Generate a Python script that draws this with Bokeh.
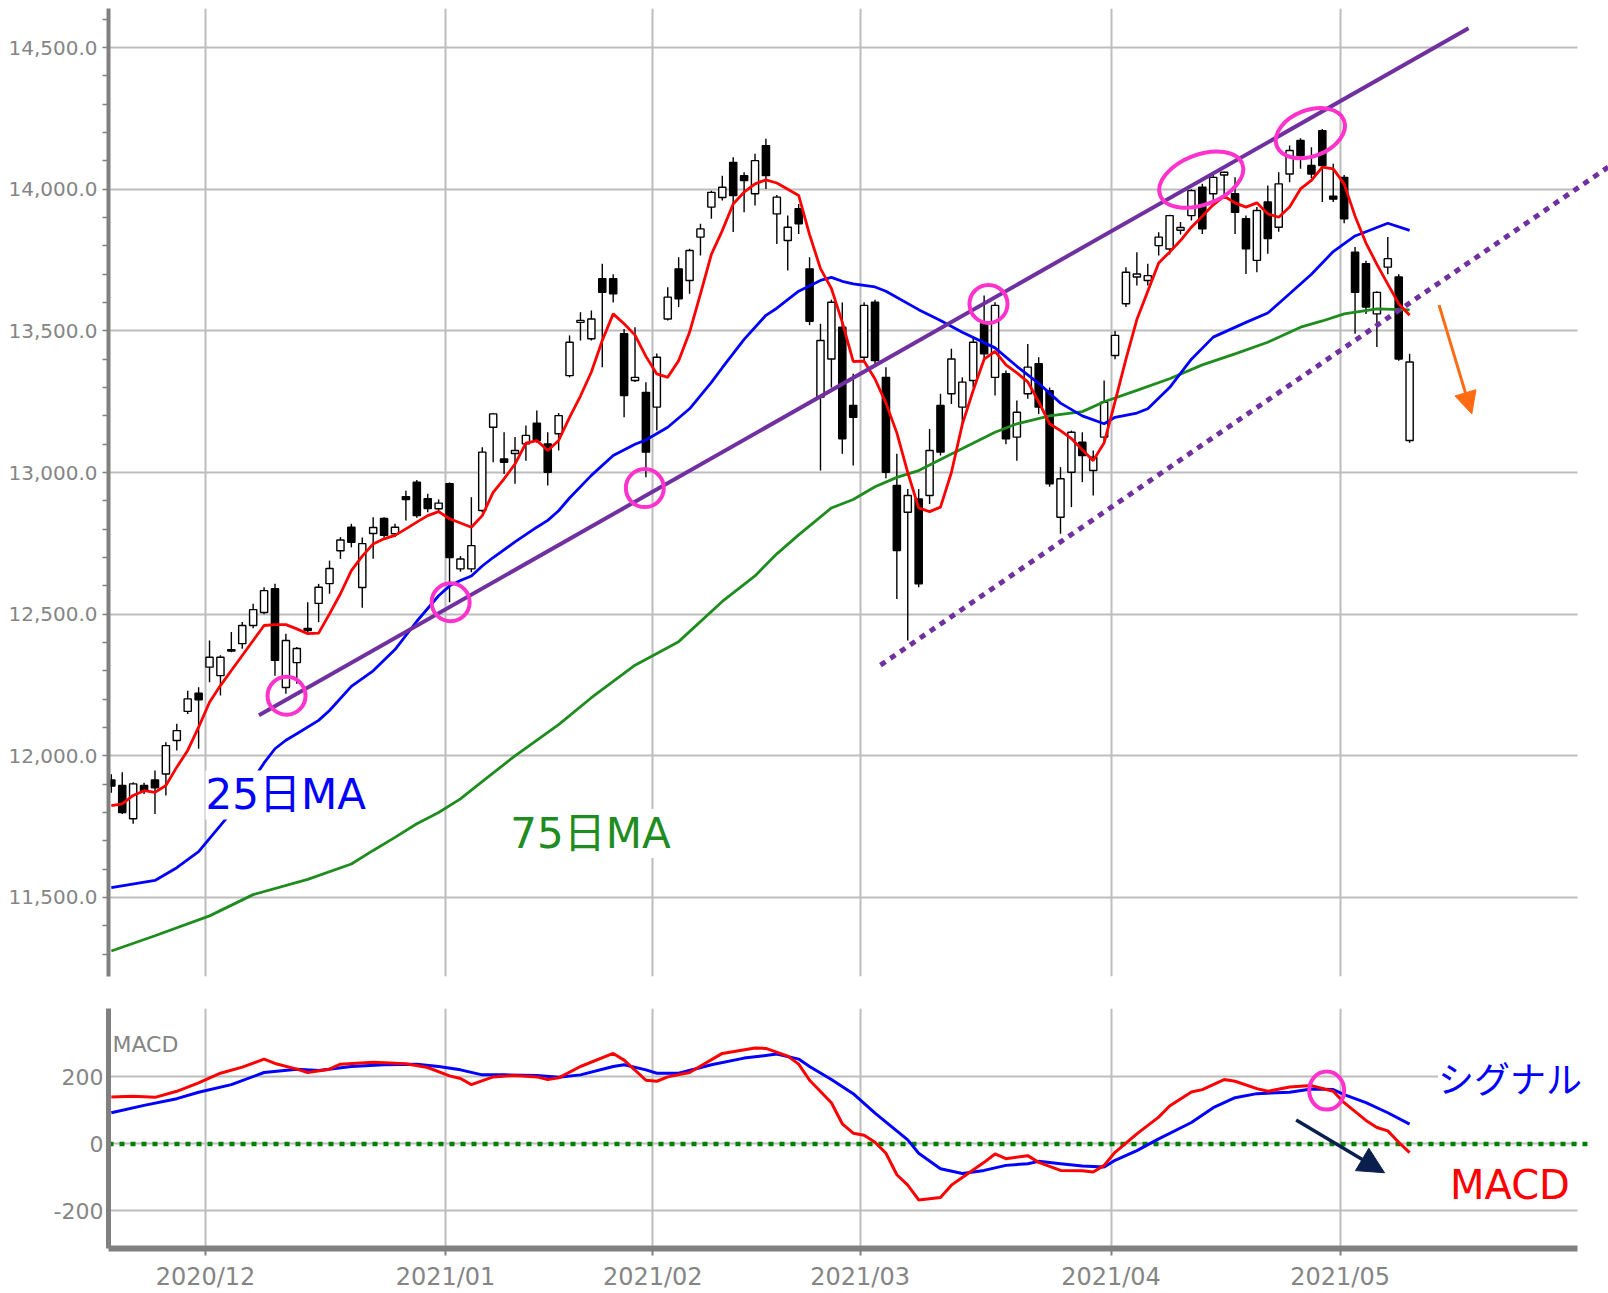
from bokeh.plotting import figure
from bokeh.layouts import column
from bokeh.models import (ColumnDataSource, FixedTicker, NumeralTickFormatter, Label,
                          Arrow, NormalHead, Range1d)
from bokeh.embed import file_html
from bokeh.resources import INLINE

# ---------------- data (x = trading-day index, 0 = 2020-12-01) ----------------
month_labels = ["2020/12", "2021/01", "2021/02", "2021/03", "2021/04", "2021/05"]
month_start_idx = [0, 22, 41, 60, 83, 104]

day_idx = list(range(-9, 111))
open_ = [11915, 11895, 11778, 11895, 11915, 11936, 12054, 12157, 12221,
         12313, 12283, 12375, 12396, 12460, 12506, 12590, 12241, 12329, 12450,
         12538, 12608, 12724, 12807, 12594, 12785, 12838, 12784, 12915, 12966,
         12908, 12872, 12961, 12660, 12660, 12866, 13160, 13048, 13067, 13101,
         13174, 13101, 13137, 13342, 13530, 13472, 13684, 13684, 13490, 13325,
         13283, 13231, 13542, 13719, 13678, 13831, 13937, 13971, 14095, 14048,
         13984, 14154, 13913, 13819, 13931, 13719, 13266, 13401, 13513, 13237,
         13407, 13601, 13336, 12954, 12860, 12907, 12919, 13237, 13278, 13231,
         13325, 13525, 13336, 13349, 13125, 13278, 13384, 13289, 12842, 13001,
         13107, 13007, 13125, 13413, 13596, 13690, 13678, 13801, 13789, 13855,
         13907, 14007, 13984, 14050, 13984, 13896, 13749, 13955, 13866, 14054,
         14172, 14084, 14207, 13975, 14042, 13778, 13737, 13560, 13725, 13690,
         13113]
high = [11935, 11942, 11907, 11905, 11948, 12048, 12113, 12230, 12242,
        12407, 12355, 12437, 12472, 12537, 12595, 12607, 12431, 12384, 12542,
        12607, 12689, 12772, 12819, 12771, 12842, 12842, 12819, 12936, 12974,
        12925, 12905, 12965, 12705, 12913, 13089, 13210, 13142, 13125, 13166,
        13219, 13142, 13210, 13484, 13566, 13572, 13737, 13700, 13507, 13513,
        13319, 13420, 13654, 13760, 13790, 13878, 13995, 14048, 14113, 14060,
        14125, 14178, 13980, 13907, 13948, 13760, 13525, 13610, 13600, 13349,
        13601, 13610, 13372, 13066, 12942, 12942, 13154, 13278, 13437, 13336,
        13475, 13625, 13601, 13360, 13254, 13454, 13407, 13300, 13019, 13148,
        13142, 13078, 13325, 13500, 13725, 13778, 13737, 13848, 13910, 13884,
        14000, 14019, 14060, 14062, 14042, 13907, 13937, 14013, 14060, 14154,
        14180, 14148, 14213, 14090, 14050, 13796, 13748, 13640, 13831, 13700,
        13419]
low = [11870, 11795, 11760, 11865, 11795, 11860, 12019, 12148, 12025,
       12260, 12213, 12366, 12378, 12450, 12500, 12283, 12219, 12254, 12430,
       12472, 12572, 12695, 12736, 12523, 12696, 12770, 12772, 12831, 12840,
       12860, 12860, 12542, 12650, 12648, 12860, 13036, 12995, 12960, 13042,
       13105, 12954, 13078, 13336, 13466, 13466, 13372, 13600, 13195, 13320,
       12983, 13148, 13537, 13584, 13631, 13766, 13896, 13960, 13849, 13919,
       13943, 14001, 13807, 13713, 13842, 13520, 13007, 13300, 13066, 13025,
       13390, 13380, 12980, 12554, 12407, 12595, 12889, 13060, 13242, 13160,
       13300, 13400, 13272, 13100, 13042, 13260, 13207, 12950, 12784, 12878,
       12966, 12919, 13110, 13400, 13584, 13660, 13660, 13766, 13770, 13840,
       13890, 13842, 13960, 13978, 13842, 13701, 13707, 13772, 13850, 14025,
       14072, 14040, 13955, 13955, 13880, 13490, 13560, 13443, 13700, 13395,
       13105]
close = [11893, 11800, 11901, 11877, 11887, 12036, 12089, 12201, 12198,
         12348, 12348, 12370, 12460, 12516, 12583, 12337, 12407, 12379, 12442,
         12595, 12661, 12762, 12754, 12749, 12806, 12778, 12807, 12905, 12848,
         12873, 12892, 12700, 12695, 12742, 13072, 13207, 13036, 13078, 13131,
         13113, 13001, 13201, 13460, 13537, 13542, 13636, 13631, 13272, 13336,
         13072, 13407, 13619, 13613, 13784, 13860, 13989, 14007, 13978, 14031,
         14101, 14048, 13972, 13866, 13878, 13534, 13466, 13601, 13119, 13195,
         13590, 13395, 13001, 12725, 12919, 12607, 13078, 13072, 13401, 13319,
         13460, 13419, 13590, 13119, 13213, 13372, 13231, 12960, 12978, 13142,
         13060, 13054, 13248, 13484, 13707, 13701, 13695, 13831, 13907, 13865,
         13995, 13860, 14042, 14060, 13919, 13790, 13925, 13826, 14019, 14137,
         14119, 14054, 14084, 13965, 13896, 13636, 13584, 13636, 13755, 13401,
         13390]

# short moving average (red), one value per day in day_idx
ma5 = [11824, 11830, 11860, 11877, 11871, 11895, 11960, 12019, 12101,
       12189, 12248, 12301, 12354, 12407, 12460, 12463, 12463, 12448, 12431,
       12433, 12501, 12572, 12654, 12705, 12748, 12766, 12778, 12801, 12825,
       12848, 12862, 12837, 12822, 12807, 12848, 12930, 12978, 13030, 13104,
       13113, 13078, 13113, 13195, 13270, 13355, 13466, 13560, 13525, 13485,
       13410, 13348, 13336, 13395, 13495, 13631, 13770, 13854, 13948, 13990,
       14019, 14033, 14022, 14000, 13978, 13840, 13720, 13650, 13530, 13392,
       13393, 13330, 13245, 13140, 13000, 12875, 12862, 12878, 13000, 13170,
       13290, 13400, 13428, 13380, 13352, 13320, 13250, 13172, 13148, 13120,
       13080, 13042, 13105, 13250, 13400, 13540, 13640, 13740, 13778, 13819,
       13866, 13905, 13945, 13975, 13952, 13937, 13952, 13913, 13901, 13937,
       14001, 14031, 14078, 14072, 14019, 13905, 13810, 13735, 13665, 13596,
       13555]

ma25_idx = [-9, -5, -3, -1, 2, 5, 6, 7, 8, 10, 11, 13, 15, 17, 19, 21, 22, 23, 24, 25,
            26, 28, 30, 31, 32, 33, 35, 37, 39, 40, 42, 44, 46, 47, 49, 51, 52, 54, 56, 57,
            58, 59, 61, 62, 65, 67, 69, 72, 74, 76, 78, 80, 82, 83, 85, 86, 88, 90, 92, 95,
            97, 99, 101, 103, 105, 108, 110]
ma25 = [11535, 11560, 11605, 11662, 11800, 11975, 12025, 12055, 12078, 12125,
        12160, 12245, 12300, 12375, 12475, 12565, 12600, 12619, 12635, 12670,
        12700, 12755, 12807, 12831, 12865, 12910, 12990, 13060, 13100, 13115,
        13160, 13225, 13318, 13370, 13470, 13555, 13580, 13640, 13678, 13689,
        13675, 13666, 13655, 13640, 13575, 13537, 13495, 13440, 13375, 13315,
        13245, 13200, 13172, 13195, 13210, 13225, 13300, 13400, 13478, 13530,
        13563, 13631, 13700, 13780, 13835, 13880, 13855]

ma75_idx = [-9, -5, 0, 4, 9, 13, 15, 17, 19, 21, 23, 24, 28, 32, 35, 39, 43, 47, 50, 52,
            54, 57, 59, 61, 63, 65, 68, 72, 74, 77, 80, 82, 85, 88, 91, 94, 97, 100, 102, 104,
            107, 110]
ma75 = [11311, 11365, 11435, 11510, 11564, 11618, 11666, 11712, 11760, 11800,
        11848, 11879, 12000, 12110, 12205, 12320, 12403, 12545, 12635, 12713,
        12780, 12875, 12905, 12950, 12983, 13007, 13065, 13142, 13172, 13200,
        13215, 13250, 13290, 13331, 13380, 13419, 13460, 13513, 13535, 13560,
        13578, 13574]

macd_idx = [-9, -7, -5, -3, -1, 1, 3, 5, 6, 8, 9, 11, 12, 15, 18, 20, 22, 23, 24, 26,
            28, 30, 31, 32, 34, 37, 38, 40, 41, 42, 44, 47, 50, 51, 53, 54, 55, 57, 58, 59,
            60, 61, 62, 63, 64, 65, 67, 68, 69, 71, 72, 73, 75, 76, 78, 80, 81, 82, 83, 85,
            87, 88, 90, 91, 93, 94, 96, 97, 99, 101, 103, 104, 106, 107, 108, 109, 110]
macd = [140, 142, 139, 157, 182, 211, 229, 253, 240, 223, 213, 223, 238, 244, 239,
        228, 203, 195, 177, 200, 204, 200, 192, 197, 231, 270, 250, 190, 187, 200,
        213, 270, 286, 285, 262, 238, 190, 123, 60, 32, 26, 5, -28, -92, -123,
        -167, -160, -123, -100, -55, -30, -44, -35, -55, -79, -80, -84, -64, -25, 30,
        80, 113, 155, 162, 192, 187, 165, 157, 170, 174, 157, 123, 70, 49, 39,
        5, -26]

signal_idx = [-9, -6, -3, -1, 2, 5, 8, 10, 13, 16, 19, 21, 23, 25, 27, 30, 32, 34, 37, 38,
              40, 41, 43, 46, 49, 52, 54, 55, 57, 59, 61, 64, 65, 67, 69, 71, 73, 75, 76, 78,
              80, 82, 83, 85, 87, 90, 92, 94, 96, 99, 101, 103, 104, 106, 108, 110]
signal = [93, 115, 135, 154, 177, 213, 223, 219, 231, 236, 238, 231, 221, 206, 206,
          204, 199, 206, 231, 236, 221, 211, 211, 236, 256, 268, 253, 231, 192, 150,
          92, 12, -28, -74, -88, -79, -64, -59, -52, -59, -66, -69, -49, -20, 15,
          64, 108, 138, 150, 154, 164, 162, 147, 123, 93, 59]

# hand-drawn annotations (data coordinates)
upper_trend_idx = [4.53, 115.4]
upper_trend_val = [12143, 14568]
lower_trend_idx = [61.5, 128.2]
lower_trend_val = [12320, 14078]
touch_idx = [7.06, 22.1, 39.9, 71.4]
touch_val = [12212, 12542, 12945, 13595]
top_idx = [90.9, 100.9]
top_val = [14034, 14198]
cross_idx = [102.4]
cross_val = [159]
zero_line_idx = [-9.26, 126.3]
zero_line_val = [0, 0]

# ---------------- styling ----------------
FONT = "DejaVu Sans"
JFONT = "DejaVu Sans, Noto Sans CJK JP"
AXIS_GRAY = "#808080"
LABEL_GRAY = "#858585"
GRID = "#bdbdbd"
PURPLE = "#7030A0"
MAGENTA = "#FF33CC"
RED = "#FF0000"
BLUE = "#0000FF"
GREEN = "#1E8C1E"

X0, X1 = -9.26, 128.23      # frame runs to the page edge
XG = 125.4                  # where grid / axis lines stop
tick_pos = [m - 0.37 for m in month_start_idx]

# ---------------- main price panel ----------------
p = figure(width=1608, height=990, x_range=Range1d(X0, X1), y_range=Range1d(11221, 14638),
           output_backend="svg", toolbar_location=None, x_axis_location=None,
           min_border_left=108, min_border_right=0, min_border_top=8, min_border_bottom=14)
p.outline_line_color = None
p.background_fill_color = "white"
p.border_fill_color = "white"

p.yaxis.ticker = FixedTicker(ticks=[11500, 12000, 12500, 13000, 13500, 14000, 14500],
                             minor_ticks=list(range(11300, 14700, 100)))
p.yaxis.formatter = NumeralTickFormatter(format="0,0.0")
p.yaxis.major_label_text_font = FONT
p.yaxis.major_label_text_font_size = "20px"
p.yaxis.major_label_text_color = LABEL_GRAY
p.yaxis.axis_line_color = AXIS_GRAY
p.yaxis.axis_line_width = 4
p.yaxis.major_tick_out = 0
p.yaxis.major_tick_in = 0
p.yaxis.minor_tick_out = 6
p.yaxis.minor_tick_in = 0
p.yaxis.minor_tick_line_color = AXIS_GRAY
p.yaxis.minor_tick_line_width = 1.5
p.yaxis.major_label_standoff = 5
p.ygrid.grid_line_color = GRID
p.ygrid.grid_line_width = 2
p.ygrid.cross_bounds = (X0, XG)
p.xgrid.ticker = FixedTicker(ticks=tick_pos)
p.xgrid.grid_line_color = GRID
p.xgrid.grid_line_width = 2

top = [max(o, c) for o, c in zip(open_, close)]
bot = [min(o, c) for o, c in zip(open_, close)]
fill = ["white" if c >= o else "black" for o, c in zip(open_, close)]
src = ColumnDataSource(dict(x=day_idx, high=high, low=low, top=top, bot=bot, fill=fill))
p.segment(x0="x", y0="high", x1="x", y1="low", source=src, line_color="black", line_width=1.4)
p.vbar(x="x", width=0.66, top="top", bottom="bot", source=src,
       fill_color="fill", line_color="black", line_width=1.4)

p.line(ma75_idx, ma75, line_color=GREEN, line_width=2.8)
p.line(ma25_idx, ma25, line_color=BLUE, line_width=2.8)
p.line(day_idx, ma5, line_color=RED, line_width=2.8)

p.line(upper_trend_idx, upper_trend_val, line_color=PURPLE, line_width=4)
p.line(lower_trend_idx, lower_trend_val, line_color=PURPLE, line_width=5, line_dash="6 6")

p.ellipse(x=touch_idx, y=touch_val, width=38, height=38, width_units="screen",
          height_units="screen", fill_color=None, line_color=MAGENTA, line_width=4)
p.ellipse(x=top_idx, y=top_val, width=[88, 72], height=[50, 46], angle=[21, 21],
          angle_units="deg", width_units="screen", height_units="screen",
          fill_color=None, line_color=MAGENTA, line_width=4)

p.add_layout(Arrow(end=NormalHead(size=22, fill_color="#FF6A13", line_color="#FF6A13"),
                   x_start=112.7, y_start=13591, x_end=115.7, y_end=13207,
                   line_color="#FF6A13", line_width=3))

p.add_layout(Label(x=-0.37, y=11862, text="25日MA", text_font=JFONT, text_font_size="42px",
                   text_color=BLUE, text_baseline="middle", text_align="left",
                   background_fill_color="white", background_fill_alpha=1.0))
p.add_layout(Label(x=27.56, y=11726, text="75日MA", text_font=JFONT, text_font_size="42px",
                   text_color=GREEN, text_baseline="middle", text_align="left",
                   background_fill_color="white", background_fill_alpha=1.0))

# ---------------- MACD panel ----------------
q = figure(width=1608, height=303, x_range=p.x_range, y_range=Range1d(-312, 404),
           output_backend="svg", toolbar_location=None,
           min_border_left=108, min_border_right=0, min_border_top=18, min_border_bottom=42)
q.outline_line_color = None
q.background_fill_color = "white"
q.border_fill_color = "white"

q.xaxis.ticker = FixedTicker(ticks=tick_pos)
q.xaxis.major_label_overrides = {t: lab for t, lab in zip(tick_pos, month_labels)}
q.xaxis.bounds = (X0, XG)
q.xaxis.major_label_text_font = FONT
q.xaxis.major_label_text_font_size = "24px"
q.xaxis.major_label_text_color = LABEL_GRAY
q.xaxis.axis_line_color = AXIS_GRAY
q.xaxis.axis_line_width = 6
q.xaxis.major_tick_out = 7
q.xaxis.major_tick_in = 0
q.xaxis.major_tick_line_color = AXIS_GRAY
q.xaxis.major_tick_line_width = 2
q.xaxis.minor_tick_line_color = None
q.xaxis.major_label_standoff = 7

q.yaxis.ticker = FixedTicker(ticks=[-200, 0, 200])
q.yaxis.major_label_overrides = {-200: "-200", 0: "0", 200: "200"}
q.yaxis.major_label_text_font = FONT
q.yaxis.major_label_text_font_size = "22px"
q.yaxis.major_label_text_color = LABEL_GRAY
q.yaxis.axis_line_color = AXIS_GRAY
q.yaxis.axis_line_width = 5
q.yaxis.major_tick_out = 0
q.yaxis.major_tick_in = 0
q.yaxis.minor_tick_line_color = None
q.yaxis.major_label_standoff = 5
q.xgrid.grid_line_color = GRID
q.xgrid.grid_line_width = 2
q.ygrid.grid_line_color = GRID
q.ygrid.grid_line_width = 2
q.ygrid.cross_bounds = (X0, XG)

q.line(zero_line_idx, zero_line_val, line_color="#008000", line_width=4.5, line_dash="5 6")
q.line(signal_idx, signal, line_color=BLUE, line_width=3)
q.line(macd_idx, macd, line_color=RED, line_width=3)

q.ellipse(x=cross_idx, y=cross_val, width=35, height=38, width_units="screen",
          height_units="screen", fill_color=None, line_color=MAGENTA, line_width=4)
q.add_layout(Arrow(end=NormalHead(size=26, fill_color="#0B1F4F", line_color="#0B1F4F"),
                   x_start=99.6, y_start=71, x_end=107.7, y_end=-86,
                   line_color="#0B1F4F", line_width=3.5))

q.add_layout(Label(x=-8.9, y=296, text="MACD", text_font=FONT, text_font_size="22px",
                   text_color=LABEL_GRAY, text_baseline="middle", text_align="left"))
q.add_layout(Label(x=112.6, y=190, text="シグナル", text_font=JFONT, text_font_size="36px",
                   text_color=BLUE, text_baseline="middle", text_align="left",
                   background_fill_color="white", background_fill_alpha=1.0))
q.add_layout(Label(x=113.7, y=-123, text="MACD", text_font=JFONT, text_font_size="40px",
                   text_color=RED, text_baseline="middle", text_align="left",
                   background_fill_color="white", background_fill_alpha=1.0))

layout = column(p, q, spacing=0)
open("out.html", "w").write(file_html(layout, INLINE))
